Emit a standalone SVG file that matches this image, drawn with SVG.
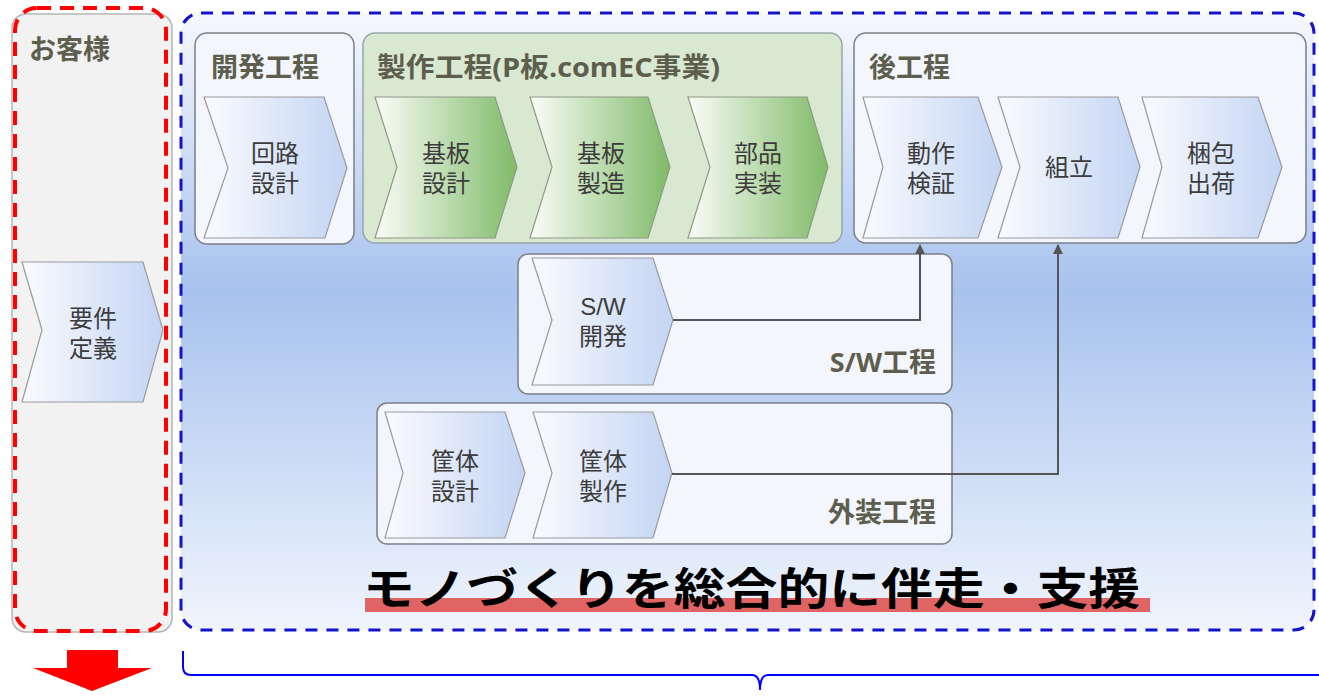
<svg xmlns="http://www.w3.org/2000/svg" width="1319" height="699" viewBox="0 0 1319 699">
<defs>
<linearGradient id="bgBlue" x1="0" y1="0" x2="0" y2="1">
<stop offset="0" stop-color="#f6f8fd"/>
<stop offset="0.45" stop-color="#a7c2ee"/>
<stop offset="1" stop-color="#f0f5fd"/>
</linearGradient>
<linearGradient id="chevBlue" x1="0" y1="0" x2="1" y2="0">
<stop offset="0" stop-color="#fafbfe"/>
<stop offset="1" stop-color="#c3d4f3"/>
</linearGradient>
<linearGradient id="chevGreen" x1="0" y1="0" x2="1" y2="0">
<stop offset="0" stop-color="#fbfcf8"/>
<stop offset="1" stop-color="#7fbb68"/>
</linearGradient>
<marker id="arr" viewBox="0 0 10 10" refX="9" refY="5" markerWidth="5" markerHeight="5" orient="auto">
<path d="M0,0 L10,5 L0,10 z" fill="#555"/>
</marker>
<style>
.grp{fill:#f3f6fc;stroke:#7a7f88;stroke-width:1.5}
.cb{fill:url(#chevBlue);stroke:#9a9a9a;stroke-width:1.2}
.cg{fill:url(#chevGreen);stroke:#8e9a86;stroke-width:1.2}
.ttl{font-family:"Open Sans","Noto Sans CJK JP",sans-serif;font-weight:bold;font-size:27px;fill:#5e5e4e}
.lbl{font-family:"Liberation Sans","Noto Sans CJK JP",sans-serif;font-size:24px;fill:#3c3c3c;text-anchor:middle}
.conn{fill:none;stroke:#555;stroke-width:2}
</style>
</defs>
<rect width="1319" height="699" fill="#ffffff"/>

<g id="support-area">
<rect x="181" y="13" width="1133" height="617" rx="20" fill="url(#bgBlue)" stroke="#1414cc" stroke-width="3" stroke-dasharray="12 9"/>
</g>

<g id="customer">
<rect x="12" y="14" width="160" height="618" rx="14" fill="#f2f2f2" stroke="#b5b5b5" stroke-width="1.5"/>
<rect x="15" y="8" width="151" height="623" rx="22" fill="none" stroke="#ff0000" stroke-width="4" stroke-dasharray="14 9"/>
<text class="ttl" x="29" y="59">お客様</text>
</g>

<g id="node-youken">
<polygon class="cb" points="22,262 143,262 163,330 143,402 22,402 42,330"/>
<text class="lbl" x="93" y="327">要件</text>
<text class="lbl" x="93" y="357">定義</text>
</g>

<g id="group-kaihatsu">
<rect class="grp" x="195" y="33" width="159" height="211" rx="12"/>
<text class="ttl" x="211" y="77">開発工程</text>
</g>
<g id="node-kairo">
<polygon class="cb" points="204,97 324,97 347,168 325,238 204,238 228,168"/>
<text class="lbl" x="275" y="162">回路</text>
<text class="lbl" x="275" y="192">設計</text>
</g>

<g id="group-seisaku">
<rect x="363" y="33" width="479" height="210" rx="12" fill="#d9e8d1" stroke="#97a6a8" stroke-width="1.5"/>
<text class="ttl" x="377" y="77" textLength="343" lengthAdjust="spacingAndGlyphs">製作工程(P板.comEC事業)</text>
</g>
<g id="node-kiban-sekkei">
<polygon class="cg" points="375,97 495,97 517,167 495,238 375,238 397,167"/>
<text class="lbl" x="446" y="162">基板</text>
<text class="lbl" x="446" y="192">設計</text>
</g>
<g id="node-kiban-seizo">
<polygon class="cg" points="530,97 648,97 670,167 648,238 530,238 552,167"/>
<text class="lbl" x="601" y="162">基板</text>
<text class="lbl" x="601" y="192">製造</text>
</g>
<g id="node-buhin">
<polygon class="cg" points="688,97 807,97 828,167 807,238 688,238 710,167"/>
<text class="lbl" x="758" y="162">部品</text>
<text class="lbl" x="758" y="192">実装</text>
</g>

<g id="group-ato">
<rect class="grp" x="854" y="33" width="452" height="210" rx="12"/>
<text class="ttl" x="869" y="77">後工程</text>
</g>
<g id="node-dosa">
<polygon class="cb" points="863,97 978,97 1002,167 978,238 863,238 883,167"/>
<text class="lbl" x="931" y="162">動作</text>
<text class="lbl" x="931" y="192">検証</text>
</g>
<g id="node-kumitate">
<polygon class="cb" points="998,97 1118,97 1140,167 1118,238 998,238 1020,167"/>
<text class="lbl" x="1069" y="176">組立</text>
</g>
<g id="node-konpo">
<polygon class="cb" points="1142,97 1258,97 1282,167 1258,238 1142,238 1162,167"/>
<text class="lbl" x="1211" y="162">梱包</text>
<text class="lbl" x="1211" y="192">出荷</text>
</g>

<g id="group-sw">
<rect class="grp" x="518" y="254" width="434" height="140" rx="10"/>
<text class="ttl" x="936" y="372" text-anchor="end">S/W工程</text>
</g>
<g id="node-sw">
<polygon class="cb" points="532,258 653,258 673,320 653,385 532,385 552,320"/>
<text class="lbl" x="603" y="315">S/W</text>
<text class="lbl" x="603" y="345">開発</text>
</g>

<g id="group-gaiso">
<rect class="grp" x="377" y="403" width="575" height="141" rx="10"/>
<text class="ttl" x="936" y="522" text-anchor="end">外装工程</text>
</g>
<g id="node-kyotai-sekkei">
<polygon class="cb" points="385,412 505,412 525,473 505,538 385,538 403,473"/>
<text class="lbl" x="455" y="470">筐体</text>
<text class="lbl" x="455" y="500">設計</text>
</g>
<g id="node-kyotai-seisaku">
<polygon class="cb" points="533,412 653,412 672,473 653,538 533,538 552,473"/>
<text class="lbl" x="603" y="470">筐体</text>
<text class="lbl" x="603" y="500">製作</text>
</g>

<g id="connectors">
<polyline class="conn" points="673,320 920,320 920,245" marker-end="url(#arr)"/>
<polyline class="conn" points="672,474 1058,474 1058,245" marker-end="url(#arr)"/>
</g>

<g id="slogan">
<rect x="365" y="598" width="785" height="14" fill="#e06464"/>
<text x="363" y="605" font-family="'Noto Sans CJK JP',sans-serif" font-weight="bold" font-size="44" fill="#000" textLength="777" lengthAdjust="spacingAndGlyphs">モノづくりを総合的に伴走・支援</text>
</g>

<g id="down-arrow">
<polygon points="67,650 118,650 118,668 152,668 92,691 33,668 67,668" fill="#ff0000"/>
</g>

<g id="bracket">
<path d="M183,651 L183,667 Q183,675 191,675 L752,675 Q760,675 760,690 Q760,675 768,675 L1319,675" fill="none" stroke="#0000ff" stroke-width="2"/>
</g>
</svg>
